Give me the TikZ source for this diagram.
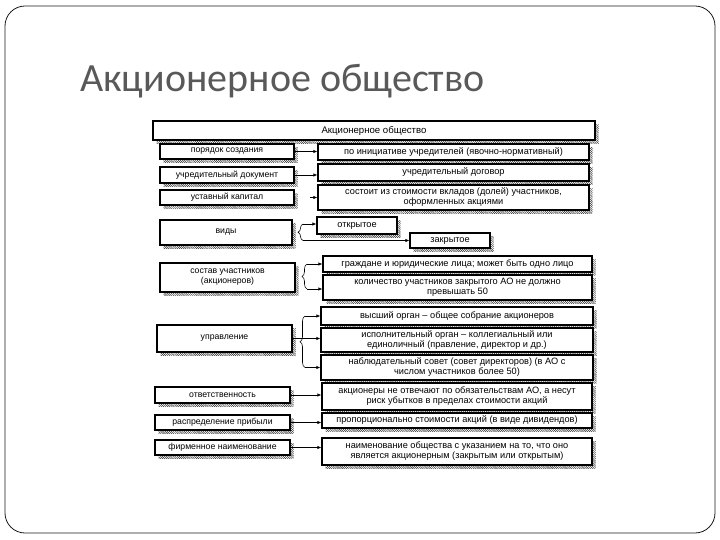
\documentclass[tikz,border=0pt]{standalone}
\usepackage{fontspec}
\setmainfont{Liberation Sans}
\newfontfamily\titlefont{Carlito}
\usetikzlibrary{arrows.meta,patterns.meta,decorations.pathreplacing}
\definecolor{titlegray}{RGB}{89,89,89}
\tikzset{
  bx/.style={draw, line width=1.1pt, fill=white, inner sep=0.5pt, align=center,
    font=\fontsize{9.2}{10}\selectfont},
  lbx/.style={bx, font=\fontsize{8.7}{10}\selectfont},
  topbx/.style={bx, line width=1.6pt, font=\fontsize{9.6}{10}\selectfont},
  shad/.style={pattern={Lines[angle=-45,distance=1.5pt,line width=.5pt]}, pattern color=black!85},
  arr/.style={-{Latex[length=4pt,width=3.2pt]}, line width=0.6pt},
  brc/.style={decorate, decoration={brace, amplitude=5pt, mirror}, line width=0.6pt},
}
% name, style, x1, y1, x2, y2, text
\newcommand\zbox[7]{%
  \fill[shad] (#3+3.5,#4+3.5) rectangle (#5+3.5,#6+3.5);
  \node[#2, minimum width={(#5-#3)*1pt}, minimum height={(#6-#4)*1pt}]
    (#1) at ({(#3+#5)/2},{(#4+#6)/2}) {#7};}
\begin{document}
\begin{tikzpicture}[x=1pt,y=-1pt]
\useasboundingbox (0,0) rectangle (720,540);
\draw[black!90, line width=0.8pt, rounded corners=20pt] (5,6) rectangle (715,533);
\node[anchor=base west, inner sep=0, text=titlegray,
  font=\titlefont\fontsize{40}{44}\selectfont] (title) at (80,92) {Акционерное общество};

\zbox{top}{topbx}{153}{121}{595}{140}{Акционерное общество}

\zbox{L1}{lbx}{160}{144}{294}{159}{порядок создания}
\zbox{L2}{lbx}{160}{167}{294}{183}{учредительный документ}
\zbox{L3}{lbx}{160}{190}{294}{205}{уставный капитал}
\zbox{L4}{lbx}{160}{220}{292}{245}{виды}
\zbox{L5}{lbx}{160}{263}{295}{292}{состав участников\\(акционеров)}
\zbox{L6}{lbx}{157}{325}{292}{352}{управление}
\zbox{L7}{lbx}{155}{387}{290}{403}{ответственность}
\zbox{L8}{lbx}{155}{415}{290}{430}{распределение прибыли}
\zbox{L9}{lbx}{155}{440}{290}{455}{фирменное наименование}

\zbox{R1}{bx}{318}{144}{589}{160}{по инициативе учредителей (явочно-нормативный)}
\zbox{R2}{bx}{318}{164}{589}{181}{учредительный договор}
\zbox{R3}{bx}{318}{185}{589}{210}{состоит из стоимости вкладов (долей) участников,\\оформленных акциями}
\zbox{R4a}{bx}{317}{217}{397}{234}{открытое}
\zbox{R4b}{bx}{410}{233}{490}{248}{закрытое}
\zbox{R5a}{bx}{323}{256}{592}{272}{граждане и юридические лица; может быть одно лицо}
\zbox{R5b}{bx}{323}{275}{592}{300}{количество участников закрытого АО не должно\\превышать 50}
\zbox{R6a}{bx}{321}{307}{593}{325}{высший орган – общее собрание акционеров}
\zbox{R6b}{bx}{321}{328}{593}{352}{исполнительный орган – коллегиальный или\\единоличный (правление, директор и др.)}
\zbox{R6c}{bx}{321}{355}{593}{380}{наблюдательный совет (совет директоров) (в АО с\\числом участников более 50)}
\zbox{R7}{bx}{322}{383}{592}{410}{акционеры не отвечают по обязательствам АО, а несут\\риск убытков в пределах стоимости акций}
\zbox{R8}{bx}{322}{413}{592}{428}{пропорционально стоимости акций (в виде дивидендов)}
\zbox{R9}{bx}{322}{438}{592}{465}{наименование общества с указанием на то, что оно\\является акционерным (закрытым или открытым)}

% straight connectors
\draw[arr] (L1.east) -- (L1.east -| R1.west);
\draw[arr] (L2.east) -- (L2.east -| R2.west);
\draw[arr] ([xshift=-7pt]R3.west) -- (R3.west);
\draw[arr] (L7.east) -- (L7.east -| R7.west);
\draw[arr] (L8.east) -- (L8.east -| R8.west);
\draw[arr] (L9.east) -- (L9.east -| R9.west);

% braces
\coordinate (b4t) at (303,224);
\coordinate (b4b) at (303,240.5);
\draw[brc] (b4t) -- (b4b);
\draw[arr] (b4t) -- (b4t -| R4a.west);
\draw[arr] (b4b) -- (b4b -| R4b.west);

\coordinate (b5t) at (307,264);
\coordinate (b5b) at (307,289);
\draw[brc] (b5t) -- (b5b);
\draw[arr] (b5t) -- (b5t -| R5a.west);
\draw[arr] (b5b) -- (b5b -| R5b.west);

\coordinate (b6t) at (305,316);
\coordinate (b6b) at (305,367.5);
\draw[brc] (b6t) -- (b6b);
\draw[arr] (b6t) -- (b6t -| R6a.west);
\draw[arr] (L6.east) -- (L6.east -| R6b.west);
\draw[arr] (b6b) -- (b6b -| R6c.west);
\end{tikzpicture}
\end{document}
